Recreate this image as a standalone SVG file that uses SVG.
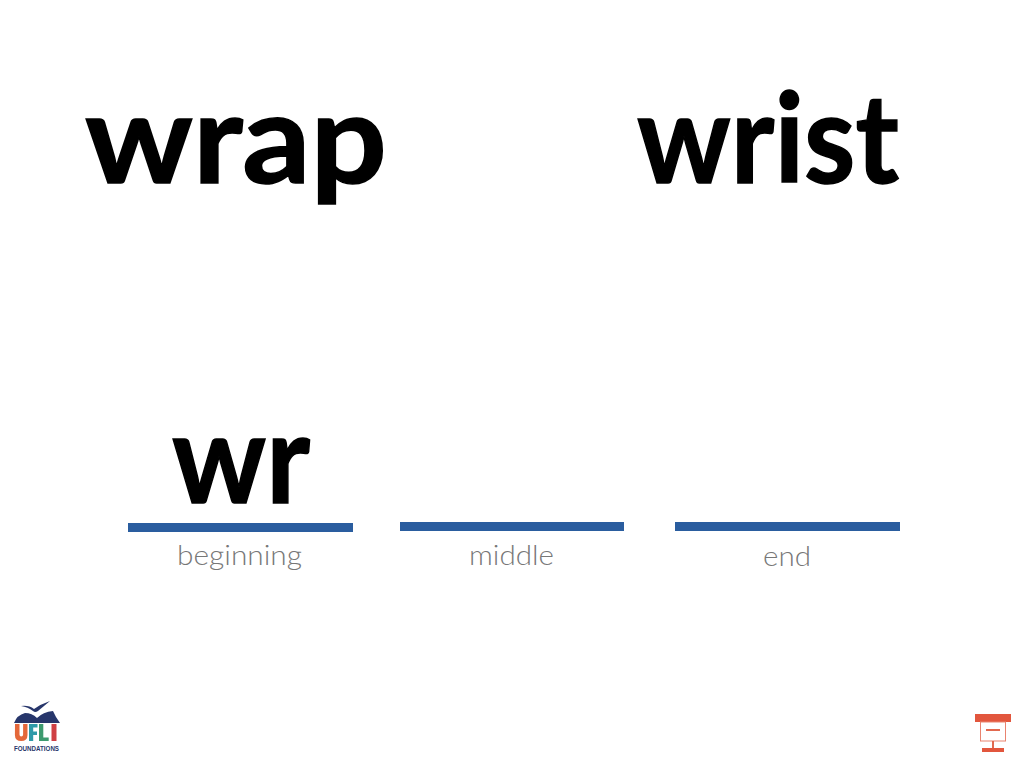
<svg xmlns="http://www.w3.org/2000/svg" width="1024" height="768" viewBox="0 0 1024 768">
<style>
.big{font-family:"Lato","Liberation Sans",sans-serif;font-weight:700;fill:#000;stroke:#000;stroke-width:1.5px}
.lab{font-family:"Lato","Liberation Sans",sans-serif;font-weight:300;font-size:27px;fill:#777;text-anchor:middle}
.bar{fill:#2a5d9f}
</style>
<rect width="1024" height="768" fill="#fff"/>
<g id="word-wrap"><text class="big" x="85" y="183" font-size="124" textLength="302" lengthAdjust="spacingAndGlyphs">wrap</text></g>
<g id="word-wrist"><text class="big" x="637" y="183" font-size="124" textLength="262" lengthAdjust="spacingAndGlyphs">wrist</text></g>
<g id="slot-beginning"><text class="big" x="172" y="503" font-size="124" textLength="138" lengthAdjust="spacingAndGlyphs">wr</text><rect class="bar" x="128" y="523" width="225" height="9"/><text class="lab" x="239.500" y="565" textLength="125" lengthAdjust="spacingAndGlyphs">beginning</text></g>
<g id="slot-middle"><rect class="bar" x="400" y="522" width="224" height="9"/><text class="lab" x="511.500" y="565" textLength="85" lengthAdjust="spacingAndGlyphs">middle</text></g>
<g id="slot-end"><rect class="bar" x="675" y="522" width="225" height="9"/><text class="lab" x="787" y="566" textLength="48" lengthAdjust="spacingAndGlyphs">end</text></g>
<g id="logo-ufli">
<path d="M21 706 Q29 705 34 709 Q41 704 50 701 Q44 706 38 711 Q35 713 33 711 Q28 707 21 706Z" fill="#27366b"/>
<path d="M14 723 Q17 715 25 713 Q32 713 37 718 Q43 712 53 711 L56 717 L60 723 Z" fill="#27366b"/>
<path d="M15 724h4.500v10.500q0 2 1.800 2t1.800-2v-10.500h4.400v11q0 6-6.300 6t-6.300-6z" fill="#e4683a"/>
<path d="M29 724h8.500v3.500h-4.300v4h3.800v3.500h-3.800v6h-4.200z" fill="#2e9aa8"/>
<path d="M39 724h4.300v13.500h5.400v3.500h-9.700z" fill="#3c9a6e"/>
<rect x="51.500" y="724" width="5" height="17" fill="#cf4044"/>
<text x="14" y="751" font-family="Liberation Sans, sans-serif" font-weight="700" font-size="8" fill="#27366b" textLength="45" lengthAdjust="spacingAndGlyphs">FOUNDATIONS</text>
</g>
<g id="icon-presentation">
<rect x="975" y="714" width="36" height="8" fill="#e2563d"/>
<rect x="980.500" y="722" width="25" height="19" fill="#fff" stroke="#e9836f" stroke-width="1"/>
<rect x="986" y="729" width="14" height="2" fill="#e2694f"/>
<rect x="992" y="741" width="2" height="7" fill="#e2694f"/>
<rect x="982" y="748" width="22" height="4" fill="#e2563d"/>
</g>
</svg>
